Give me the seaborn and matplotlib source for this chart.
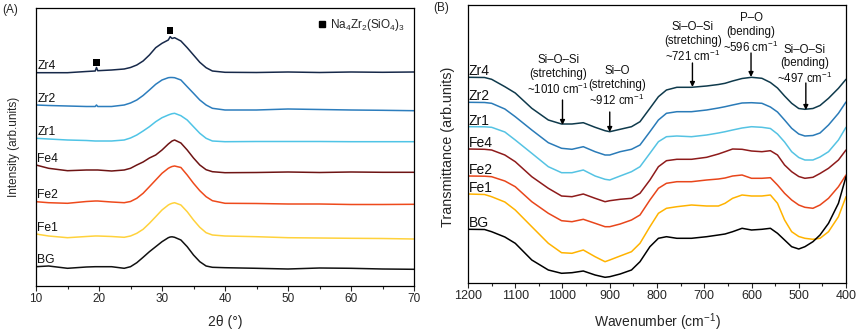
import numpy as np
import pandas as pd
import matplotlib
matplotlib.use("Agg")
import matplotlib.pyplot as plt
import seaborn as sns
from matplotlib.lines import Line2D

# ---------------- data: panel A (XRD) ----------------
two_theta = [10, 12, 15, 18, 19.4, 19.6, 19.8, 22, 24, 25, 26, 27, 28, 29, 30, 31,
             31.3, 31.6, 32, 33, 34, 35, 36, 37, 38, 40, 45, 50, 55, 60, 65, 70]
xrd_Zr4 = [213.3, 213.3, 213.3, 214.5, 215, 218.5, 215.3, 216, 217, 218.5, 221, 225, 231, 238.3, 242.7, 246,
           249.3, 247.5, 248.3, 245, 238.3, 231, 223.7, 218.3, 215, 213.7, 213.5, 214, 213.5, 214, 213.7, 214]
xrd_Zr2 = [181, 180.5, 180, 179.5, 179.5, 181, 179.5, 179.5, 181, 183, 186, 190.5, 196, 201.7, 206, 208.3,
           208.5, 208.5, 208.3, 206, 199.3, 192.7, 186, 181, 177.7, 176, 176, 177, 176.5, 176, 175.7, 175.3]
xrd_Zr1 = [147.7, 147, 146, 145.5, 145, 145, 145, 145, 146, 148, 151, 155, 159.3, 164.3, 168.3, 171,
           171.7, 172.3, 172.7, 170.3, 166, 159.3, 152.7, 147.7, 145, 144.3, 144.5, 144.5, 144.5, 144.3, 144.3, 144.3]
xrd_Fe4 = [121, 117.7, 115.3, 116, 116, 116, 116, 115, 116, 117.7, 121, 124, 128, 131, 136, 142,
           143.5, 145, 146, 143, 136, 128, 121, 116.3, 114.3, 113.3, 113.5, 114, 113.5, 114, 113.7, 113.7]
xrd_Fe2 = [84.3, 83.3, 82.7, 84.5, 85, 85, 85, 84, 83.3, 84.5, 87.7, 92.7, 99.3, 106, 112.7, 117.7,
           118.7, 119.5, 120, 118.5, 111, 102.7, 95.3, 89.3, 85.3, 82.7, 82.5, 82, 82, 81.5, 81.5, 81.7]
xrd_Fe1 = [52, 50, 48.3, 49.5, 50, 50, 50, 49.5, 48.7, 50, 52.7, 56.7, 62.7, 69.3, 76, 81,
           82, 82.7, 83.3, 81, 74.3, 66, 58.7, 53.3, 51, 50, 49.3, 48.3, 48, 47.7, 47.5, 47]
xrd_BG = [19.3, 20, 17.7, 19, 19.3, 19.3, 19.3, 19.3, 17.7, 19.3, 23.3, 28.7, 34.3, 39.3, 44.3, 48.3,
          49, 49.2, 48.7, 46, 39.3, 31, 24.3, 20, 18.7, 18.3, 17.7, 17, 18, 17.7, 17, 16.7]
phase_peak_2theta = [19.6, 31.3]
phase_marker_level = [223.3, 255.5]

# ---------------- data: panel B (FTIR) ----------------
wavenumber = [1200, 1165, 1150, 1122, 1100, 1065, 1030, 1002, 980, 956, 931, 910, 900, 878, 854, 836,
              815, 797, 780, 758, 727, 695, 670, 656, 640, 620, 600, 578, 560, 545, 530, 515, 500,
              487, 470, 455, 437, 416, 400]
ir_Zr4 = [205.7, 205.5, 203.7, 196.3, 190, 174.7, 163, 159, 159, 160.3, 155.7, 152.3, 151.3, 153.7, 156.3, 161.3,
          174.7, 186.3, 193, 195.7, 195.7, 197, 198.5, 199.7, 202, 204.5, 205.7, 204.7, 200.5, 195, 187, 179.7, 174.5,
          173.7, 174.5, 177.5, 184.7, 194.7, 203.7]
ir_Zr2 = [180.7, 180.5, 179.7, 174, 166.3, 153, 140.3, 134.7, 133.7, 136.3, 131.3, 128, 128, 131.3, 133.7, 138,
          151.3, 163, 169.7, 171.3, 171.3, 173, 175, 176.3, 178, 180, 180.3, 179.7, 176, 171, 163, 154.7, 149,
          147, 147.5, 150, 158, 169.7, 181]
ir_Zr1 = [156.3, 156.2, 155.7, 151, 143, 129.7, 116.3, 110.3, 110.3, 113, 107, 103.7, 103, 107, 111.3, 116.3,
          129.7, 141.3, 146.3, 147, 146.3, 148, 150, 151.3, 153, 155, 156.3, 155.7, 154.5, 149, 141, 131.3, 125.5,
          123, 123, 126, 131.3, 143, 155.7]
ir_Fe4 = [134, 133.7, 133, 128, 121.3, 106.3, 94.7, 87, 86.3, 89, 84.7, 81.3, 82.3, 83.7, 84.7, 89.7,
          103, 116.3, 122.3, 123.7, 123.7, 125.7, 129, 131.3, 134, 133.7, 132, 131.3, 132.3, 128, 118, 111.3, 106.5,
          104.7, 105.7, 109.5, 114.7, 123, 133]
ir_Fe2 = [107, 106.8, 106.3, 102, 96.3, 81.3, 69.7, 62.3, 61.3, 63.7, 59.7, 56.3, 56.3, 59, 63, 68,
          83, 94.7, 99.7, 101.3, 101.3, 103, 104, 105, 107, 108, 104.7, 104.7, 105.3, 98, 89.7, 83, 78,
          75.7, 74.7, 78, 84.7, 96.3, 108]
ir_Fe1 = [89, 88.5, 86.3, 81, 73, 56.3, 39.7, 30.3, 29.7, 33, 26.3, 21.3, 23, 27, 31.3, 39.7,
          56.3, 69.7, 74.7, 76.3, 78, 77, 77, 79.7, 84.7, 88, 87, 87, 88, 79.7, 63, 51.3, 46.5,
          44.7, 43.7, 44.7, 51.3, 66.3, 86.3]
ir_BG = [53.7, 53.5, 51.3, 46, 39.7, 23, 13, 9.7, 10.3, 12, 8, 5.7, 6.3, 9, 13, 21.3,
         36.3, 44.7, 46.3, 44.7, 44.7, 46.3, 48, 49, 51.3, 54.7, 53, 53.7, 54.7, 49.7, 43, 36.3, 34,
         36.3, 41.3, 48, 59.7, 79.7, 106.3]

sample_names = ["Zr4", "Zr2", "Zr1", "Fe4", "Fe2", "Fe1", "BG"]
xrd_series = [xrd_Zr4, xrd_Zr2, xrd_Zr1, xrd_Fe4, xrd_Fe2, xrd_Fe1, xrd_BG]
ir_series = [ir_Zr4, ir_Zr2, ir_Zr1, ir_Fe4, ir_Fe2, ir_Fe1, ir_BG]

xrd_colors = ["#17294a", "#2c7dbd", "#4fc4e6", "#6e1414", "#ee4a1c", "#ffd23c", "#111111"]
ir_colors = ["#0f3a4c", "#2a7bb8", "#55c3e3", "#8e1b1b", "#e8461b", "#ffb300", "#000000"]

# annotations (FTIR band assignments)
band_text = ["Si\u2013O\u2013Si\n(stretching)\n~1010 cm$^{-1}$",
             "Si\u2013O\n(stretching)\n~912 cm$^{-1}$",
             "Si\u2013O\u2013Si\n(stretching)\n~721 cm$^{-1}$",
             "P\u2013O\n(bending)\n~596 cm$^{-1}$",
             "Si\u2013O\u2013Si\n(bending)\n~497 cm$^{-1}$"]
band_arrow_x = [1000, 900, 725, 601, 485]
band_arrow_tip = [158, 151, 196, 206, 173]
band_arrow_tail = [183, 171, 220, 230, 200]
band_text_x = [1009, 885, 724, 601, 487]
band_text_y = [207.5, 196.5, 240.5, 249.5, 218]

# ---------------- style ----------------
sns.set_style("ticks")
plt.rcParams["font.family"] = ["Liberation Sans", "DejaVu Sans"]
plt.rcParams["mathtext.fontset"] = "custom"
plt.rcParams["mathtext.rm"] = "Liberation Sans"
plt.rcParams["mathtext.it"] = "Liberation Sans:italic"
plt.rcParams["mathtext.bf"] = "Liberation Sans:bold"

W, H = 858, 332
fig = plt.figure(figsize=(W / 100, H / 100), dpi=100)
axA = fig.add_axes([36 / W, (H - 286) / H, 378 / W, 278 / H])
axB = fig.add_axes([468 / W, (H - 283) / H, 378 / W, 278 / H])

# ---------- Panel A ----------
for name, vals, col in zip(sample_names, xrd_series, xrd_colors):
    sns.lineplot(x=two_theta, y=vals, ax=axA, color=col, lw=1.1)
    axA.annotate(name, xy=(two_theta[0], vals[0]), xytext=(1, 2.5), textcoords="offset points",
                 ha="left", va="baseline", fontsize=8.7, color="#111111")

sns.scatterplot(x=phase_peak_2theta, y=phase_marker_level, ax=axA, marker="s", color="black",
                s=22, edgecolor="none", legend=False)
handle = Line2D([], [], marker="s", color="black", ls="none", markersize=5)
axA.legend([handle], ["Na$_4$Zr$_2$(SiO$_4$)$_3$"], loc="upper right", frameon=False,
           fontsize=8.5, handletextpad=0.1, borderaxespad=0.4, handlelength=1.0)

axA.set_xlim(10, 70)
axA.set_ylim(0, 278)
axA.set_xticks(range(10, 71, 10))
axA.set_xticks(range(15, 70, 10), minor=True)
axA.set_yticks([])
axA.tick_params(axis="x", which="major", direction="out", length=3.5, width=0.8, labelsize=8.5, pad=1.5)
axA.tick_params(axis="x", which="minor", direction="out", length=2, width=0.8)
axA.set_xlabel("2\u03b8 (\u00b0)", fontsize=10, labelpad=7)
axA.set_ylabel("Intensity (arb.units)", fontsize=8.5)
axA.yaxis.set_label_coords(-0.042, 0.5)
for sp in axA.spines.values():
    sp.set_linewidth(0.9)
    sp.set_color("black")
fig.text(2 / W, 1 - 10 / H, "(A)", fontsize=8.5, va="center", ha="left")

# ---------- Panel B ----------
for name, vals, col in zip(sample_names, ir_series, ir_colors):
    sns.lineplot(x=wavenumber, y=vals, ax=axB, color=col, lw=1.1)
    axB.annotate(name, xy=(wavenumber[0], vals[0]), xytext=(0.5, 1.5), textcoords="offset points",
                 ha="left", va="baseline", fontsize=10, color="#111111")

for txt, ax_x, tip, tail, tx, ty in zip(band_text, band_arrow_x, band_arrow_tip, band_arrow_tail,
                                         band_text_x, band_text_y):
    axB.annotate("", xy=(ax_x, tip), xytext=(ax_x, tail),
                 arrowprops=dict(arrowstyle="-|>", color="black", lw=1.0, mutation_scale=7,
                                 shrinkA=0, shrinkB=0))
    axB.text(tx, ty, txt, ha="center", va="center", fontsize=8.3, linespacing=1.15, color="#111111")

axB.set_xlim(1200, 400)
axB.set_ylim(0, 278)
axB.set_xticks(range(1200, 399, -100))
axB.set_xticks(range(1150, 400, -100), minor=True)
axB.set_yticks([])
axB.tick_params(axis="x", which="major", direction="out", length=3.5, width=0.8, labelsize=9, pad=1.5)
axB.tick_params(axis="x", which="minor", direction="out", length=2, width=0.8)
axB.set_xlabel("Wavenumber (cm$^{-1}$)", fontsize=10, labelpad=7)
axB.set_ylabel("Transmittance (arb.units)", fontsize=10.4)
axB.yaxis.set_label_coords(-0.034, 0.49)
for sp in axB.spines.values():
    sp.set_linewidth(0.9)
    sp.set_color("black")
fig.text(433 / W, 1 - 8 / H, "(B)", fontsize=8.5, va="center", ha="left")

fig.savefig("out.png", dpi=100)
